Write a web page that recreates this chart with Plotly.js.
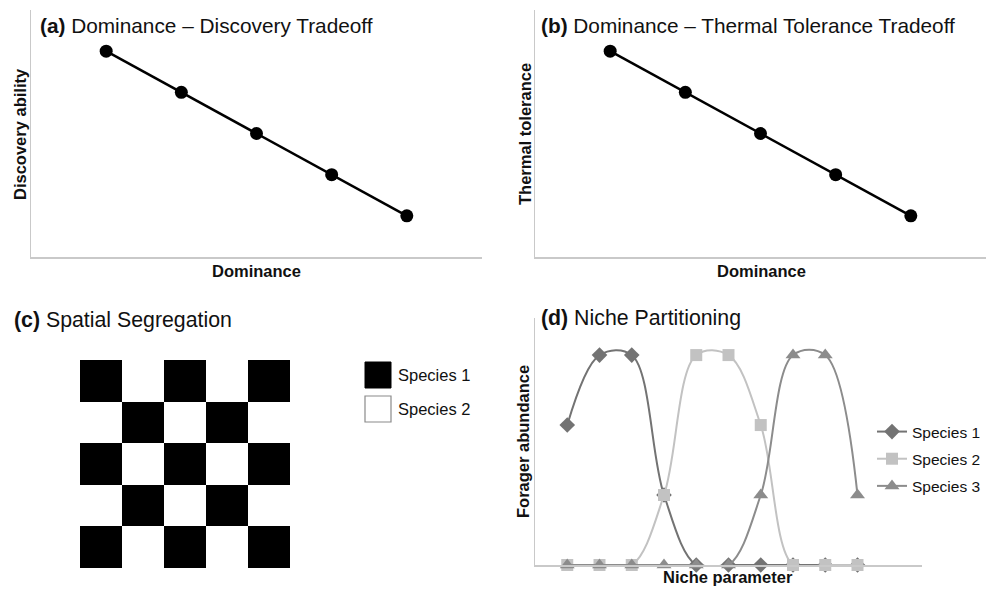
<!DOCTYPE html>
<html>
<head>
<meta charset="utf-8">
<script src="https://cdn.plot.ly/plotly-3.0.1.min.js"></script>
<style>html,body{margin:0;padding:0;background:#fff;overflow:hidden;}#chart{width:986px;height:590px;overflow:hidden;}</style>
</head>
<body>
<div id="chart"></div>
<script>
// ---- Data ----
var dominance = [1, 2, 3, 4, 5];
var discoveryAbility = [5, 4, 3, 2, 1];
var thermalTolerance = [5, 4, 3, 2, 1];

// Spatial segregation grid: 1 = Species 1, 0 = Species 2 (rows bottom to top)
var gridCols = [0, 1, 2, 3, 4];
var gridRows = [0, 1, 2, 3, 4];
var gridSpecies = [
  [1, 0, 1, 0, 1],
  [0, 1, 0, 1, 0],
  [1, 0, 1, 0, 1],
  [0, 1, 0, 1, 0],
  [1, 0, 1, 0, 1]
];

var nicheParameter = [1, 2, 3, 4, 5, 6, 7, 8, 9, 10];
var species1 = [2, 3, 3, 1, 0, 0, 0, 0, 0, 0];
var species2 = [0, 0, 0, 1, 3, 3, 2, 0, 0, 0];
var species3 = [0, 0, 0, 0, 0, 0, 1, 3, 3, 1];
var speciesNames = ['Species 1', 'Species 2', 'Species 3'];

// ---- Helpers ----
var W = 986, H = 590;
function px(x) { return x / W; }
function py(y) { return 1 - y / H; }
var FONT = 'Liberation Sans, Arial, Helvetica, sans-serif';
var AXLINE = '#c9c9c9';

function baseAxis(extra) {
  var a = {
    showline: true, linecolor: AXLINE, linewidth: 1.5,
    showgrid: false, zeroline: false, showticklabels: false, ticks: '',
    fixedrange: true
  };
  for (var k in extra) a[k] = extra[k];
  return a;
}

var traces = [
  {
    x: dominance, y: discoveryAbility, type: 'scatter', mode: 'lines+markers',
    xaxis: 'x', yaxis: 'y', showlegend: false,
    line: {color: '#000', width: 2.5},
    marker: {color: '#000', size: 13}, cliponaxis: false
  },
  {
    x: dominance, y: thermalTolerance, type: 'scatter', mode: 'lines+markers',
    xaxis: 'x2', yaxis: 'y2', showlegend: false,
    line: {color: '#000', width: 2.5},
    marker: {color: '#000', size: 13}, cliponaxis: false
  },
  {
    x: gridCols, y: gridRows, z: gridSpecies, type: 'heatmap',
    xaxis: 'x3', yaxis: 'y3', showscale: false, showlegend: false,
    colorscale: [[0, '#ffffff'], [1, '#000000']], zmin: 0, zmax: 1,
    hoverinfo: 'skip'
  },
  {
    x: nicheParameter, y: species1, type: 'scatter', mode: 'lines+markers',
    name: speciesNames[0], legendgroup: 'g1', xaxis: 'x4', yaxis: 'y4',
    line: {color: '#737373', width: 2, shape: 'spline', smoothing: 1},
    marker: {color: '#737373', size: 12, symbol: 'diamond'}, cliponaxis: false
  },
  {
    x: nicheParameter, y: species2, type: 'scatter', mode: 'lines+markers',
    name: speciesNames[1], legendgroup: 'g2', xaxis: 'x4', yaxis: 'y4',
    line: {color: '#c2c2c2', width: 2, shape: 'spline', smoothing: 1},
    marker: {color: '#c2c2c2', size: 12, symbol: 'square'}, cliponaxis: false
  },
  {
    x: nicheParameter, y: species3, type: 'scatter', mode: 'lines+markers',
    name: speciesNames[2], legendgroup: 'g3', xaxis: 'x4', yaxis: 'y4',
    line: {color: '#8c8c8c', width: 2, shape: 'spline', smoothing: 1},
    marker: {color: '#8c8c8c', size: 13, symbol: 'triangle-up'}, cliponaxis: false
  }
];

function ann(text, x, y, size, opts) {
  var a = {
    text: text, xref: 'paper', yref: 'paper', x: px(x), y: py(y),
    xanchor: 'left', yanchor: 'middle', showarrow: false,
    font: {family: FONT, size: size, color: '#111'}
  };
  for (var k in opts) a[k] = opts[k];
  return a;
}

var annotations = [
  ann('<b>(a)</b> Dominance \u2013 Discovery Tradeoff', 38, 25, 20.8),
  ann('<b>(b)</b> Dominance \u2013 Thermal Tolerance Tradeoff', 539, 25, 20.8),
  ann('<b>(c)</b> Spatial Segregation', 12, 320, 21.3),
  ann('<b>(d)</b> Niche Partitioning', 539, 318, 21.3),
  ann('<b>Dominance</b>', 256, 271, 16.5, {xanchor: 'center'}),
  ann('<b>Dominance</b>', 761, 271, 16.5, {xanchor: 'center'}),
  ann('<b>Niche parameter</b>', 728, 577, 16.5, {xanchor: 'center'}),
  ann('<b>Discovery ability</b>', 20, 134, 16.5, {xanchor: 'center', textangle: -90}),
  ann('<b>Thermal tolerance</b>', 525, 134, 16.5, {xanchor: 'center', textangle: -90}),
  ann('<b>Forager abundance</b>', 523, 442, 16.5, {xanchor: 'center', textangle: -90}),
  ann('Species 1', 396, 375, 16.5),
  ann('Species 2', 396, 409, 16.5)
];

var shapes = [
  {type: 'rect', xref: 'paper', yref: 'paper', x0: px(365), x1: px(391), y0: py(388), y1: py(362),
   fillcolor: '#000', line: {color: '#000', width: 1}},
  {type: 'rect', xref: 'paper', yref: 'paper', x0: px(365), x1: px(391), y0: py(422), y1: py(396),
   fillcolor: '#fff', line: {color: '#8a8a8a', width: 1.2}}
];

var layout = {
  width: W, height: H,
  margin: {l: 0, r: 0, t: 0, b: 0, autoexpand: false},
  paper_bgcolor: '#fff', plot_bgcolor: 'rgba(0,0,0,0)',
  font: {family: FONT, color: '#111'},
  showlegend: true,
  xaxis: baseAxis({domain: [px(31), px(482)], range: [0, 6], anchor: 'y'}),
  yaxis: baseAxis({domain: [py(257), py(10)], range: [0, 6], anchor: 'x'}),
  xaxis2: baseAxis({domain: [px(535), 1], range: [0, 6], anchor: 'y2'}),
  yaxis2: baseAxis({domain: [py(257), py(10)], range: [0, 6], anchor: 'x2'}),
  xaxis3: {domain: [px(80), px(290)], range: [-0.5, 4.5], anchor: 'y3', visible: false, fixedrange: true},
  yaxis3: {domain: [py(568), py(360)], range: [-0.5, 4.5], anchor: 'x3', visible: false, fixedrange: true},
  xaxis4: baseAxis({domain: [px(535), px(922)], range: [0, 12], anchor: 'y4'}),
  yaxis4: baseAxis({domain: [py(565), py(318)], range: [0, 3.53], anchor: 'x4'}),
  legend: {
    x: px(872), y: py(415), xanchor: 'left', yanchor: 'top',
    font: {family: FONT, size: 15.5, color: '#111'},
    bgcolor: 'rgba(0,0,0,0)', borderwidth: 0,
    traceorder: 'grouped', tracegroupgap: 4, itemwidth: 30
  },
  annotations: annotations,
  shapes: shapes
};

Plotly.newPlot('chart', traces, layout, {displayModeBar: false, staticPlot: true});
</script>
</body>
</html>
